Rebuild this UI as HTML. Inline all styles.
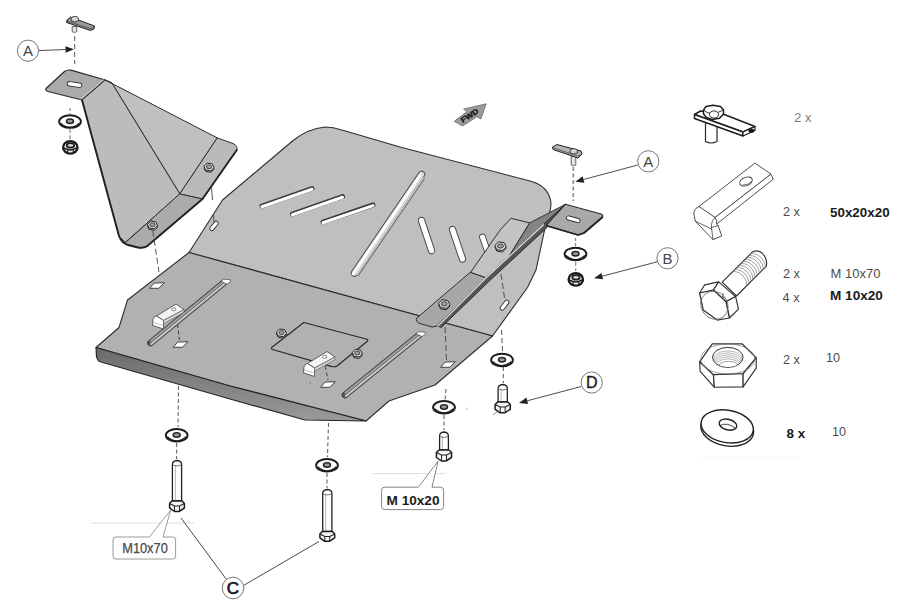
<!DOCTYPE html>
<html><head><meta charset="utf-8"><title>Skid plate mounting diagram</title>
<style>
html,body{margin:0;padding:0;background:#fff;}
body{width:900px;height:612px;overflow:hidden;font-family:"Liberation Sans",sans-serif;}
svg{display:block;font-family:"Liberation Sans",sans-serif;}
</style></head><body>
<svg width="900" height="612" viewBox="0 0 900 612">
<rect width="900" height="612" fill="#fff"/>
<defs>
<linearGradient id="gfront" x1="0" y1="0" x2="0.06" y2="1">
<stop offset="0" stop-color="#6a6a6c"/><stop offset="1" stop-color="#98989a"/></linearGradient>
<clipPath id="nutclip"><ellipse cx="727.8" cy="357.4" rx="15" ry="9.7"/></clipPath>
</defs>
<path d="M189,252.5 L222.5,200 L292.5,141 Q308,128.5 325,127 Q333,127 342,130 L400,147 L530,181 Q549,186 551,203 Q551,212 545,228 L536,270 L527.5,287.5 L492.5,336 Z" fill="#bfbec1" stroke="#2e2e2e" stroke-width="1.1" stroke-linejoin="round" stroke-linecap="round" />
<path d="M189,252.5 L127.5,300 L119,327.5 L96,347.5 L230,386 L366,421 L389,401 L435,385 L492.5,336 Z" fill="#b1b0b3" stroke="#2e2e2e" stroke-width="1.1" stroke-linejoin="round" stroke-linecap="round" />
<path d="M96,347.5 L230,386 L366,421 L305,420 L230,399 L101,362 Q97,361 96.5,356 Z" fill="url(#gfront)" stroke="#262626" stroke-width="1.2" stroke-linejoin="round" stroke-linecap="round" />
<line x1="262" y1="206.0" x2="312" y2="188.5" stroke="#3a3a3a" stroke-width="5" stroke-linecap="round"/>
<line x1="262" y1="206.8" x2="312" y2="189.3" stroke="#fff" stroke-width="3.1" stroke-linecap="round"/>
<line x1="292.5" y1="214.0" x2="342.5" y2="196.5" stroke="#3a3a3a" stroke-width="5" stroke-linecap="round"/>
<line x1="292.5" y1="214.8" x2="342.5" y2="197.3" stroke="#fff" stroke-width="3.1" stroke-linecap="round"/>
<line x1="323" y1="222.0" x2="373" y2="204.8" stroke="#3a3a3a" stroke-width="5" stroke-linecap="round"/>
<line x1="323" y1="222.8" x2="373" y2="205.60000000000002" stroke="#fff" stroke-width="3.1" stroke-linecap="round"/>
<line x1="421.5" y1="220.5" x2="431.5" y2="250.5" stroke="#444" stroke-width="7.2" stroke-linecap="round"/>
<line x1="421.5" y1="220.5" x2="431.5" y2="250.5" stroke="#fff" stroke-width="5.4" stroke-linecap="round"/>
<line x1="452.5" y1="229.5" x2="462.5" y2="259" stroke="#444" stroke-width="7.2" stroke-linecap="round"/>
<line x1="452.5" y1="229.5" x2="462.5" y2="259" stroke="#fff" stroke-width="5.4" stroke-linecap="round"/>
<line x1="482.5" y1="237" x2="487" y2="250" stroke="#444" stroke-width="6.8" stroke-linecap="round"/>
<line x1="482.5" y1="237" x2="487" y2="250" stroke="#fff" stroke-width="5.0" stroke-linecap="round"/>
<line x1="421.5" y1="174.5" x2="354.5" y2="273" stroke="#444" stroke-width="7.3999999999999995" stroke-linecap="round"/>
<line x1="421.5" y1="174.5" x2="354.5" y2="273" stroke="#dcdcdc" stroke-width="5.6" stroke-linecap="round"/>
<line x1="419.8" y1="176.0" x2="353.0" y2="274.0" stroke="#fff" stroke-width="2.4" stroke-linecap="round"/>
<line x1="423.6" y1="177.5" x2="357.0" y2="275.0" stroke="#fff" stroke-width="0.8" />
<line x1="424.6" y1="178.5" x2="358.0" y2="276.0" stroke="#555" stroke-width="0.9" />
<line x1="211.8" y1="228.6" x2="216.2" y2="223.2" stroke="#333" stroke-width="5.0" stroke-linecap="round"/>
<line x1="211.8" y1="228.6" x2="216.2" y2="223.2" stroke="#fff" stroke-width="3.2" stroke-linecap="round"/>
<line x1="223.5" y1="283" x2="150.5" y2="343" stroke="#333" stroke-width="6.6" stroke-linecap="round"/>
<line x1="223.5" y1="283" x2="150.5" y2="343" stroke="#5a5a5a" stroke-width="5" stroke-linecap="round"/>
<line x1="224.36" y1="284.04" x2="151.36" y2="344.04" stroke="#c9c9cb" stroke-width="2.1" stroke-linecap="round"/>
<line x1="222.64" y1="281.96" x2="150.42" y2="341.32" stroke="#a1a1a3" stroke-width="2.0" stroke-linecap="butt"/>
<polygon points="220.8,281.3 223.7,279.2 230.1,279.6 230.3,282.2 226.7,284.0" fill="#fff" stroke="#444" stroke-width="0.7" stroke-linejoin="round" />
<line x1="418.5" y1="335.5" x2="345" y2="395" stroke="#333" stroke-width="6.6" stroke-linecap="round"/>
<line x1="418.5" y1="335.5" x2="345" y2="395" stroke="#5a5a5a" stroke-width="5" stroke-linecap="round"/>
<line x1="419.35" y1="336.55" x2="345.85" y2="396.05" stroke="#c9c9cb" stroke-width="2.1" stroke-linecap="round"/>
<line x1="417.65" y1="334.45" x2="344.93" y2="393.32" stroke="#a1a1a3" stroke-width="2.0" stroke-linecap="butt"/>
<polygon points="415.8,333.8 418.7,331.7 425.1,332.1 425.3,334.7 421.7,336.5" fill="#fff" stroke="#444" stroke-width="0.7" stroke-linejoin="round" />
<polygon points="149.7,288.3 154.1,283.1 164.3,282.7 158.9,288.3" fill="#fff" stroke="#333" stroke-width="0.9" stroke-linejoin="round" />
<polygon points="173.2,347.3 177.6,342.1 187.8,341.7 182.4,347.3" fill="#fff" stroke="#333" stroke-width="0.9" stroke-linejoin="round" />
<polygon points="320.7,387.3 325.1,382.1 335.3,381.7 329.9,387.3" fill="#fff" stroke="#333" stroke-width="0.9" stroke-linejoin="round" />
<polygon points="440.7,367.3 445.1,362.1 455.3,361.7 449.9,367.3" fill="#fff" stroke="#333" stroke-width="0.9" stroke-linejoin="round" />
<line x1="502.3" y1="308" x2="506.8" y2="302.3" stroke="#333" stroke-width="5.2" stroke-linecap="round"/>
<line x1="502.3" y1="308" x2="506.8" y2="302.3" stroke="#fff" stroke-width="3.4" stroke-linecap="round"/>
<path d="M303.8,322.5 L367,339.2 Q368.5,340 367.3,341.2 L337,366 Q335,367.2 332,366.6 L272.5,349.5 Q270.5,348.6 272,347.2 Z" fill="#b1b0b3" stroke="#262626" stroke-width="1.1" stroke-linejoin="round" stroke-linecap="round" />
<polygon points="286.6,334.9 283.3,338.0 278.2,337.3 276.4,333.5 279.7,330.4 284.8,331.1" fill="#bdbdbd" stroke="#2a2a2a" stroke-width="1" stroke-linejoin="round" />
<polygon points="286.6,333.5 283.3,336.6 278.2,335.9 276.4,332.1 279.7,329.0 284.8,329.7" fill="#d6d6d8" stroke="#2a2a2a" stroke-width="1" stroke-linejoin="round" />
<ellipse cx="281.5" cy="332.6" rx="2.60" ry="1.87" fill="#a3a3a5" stroke="#333" stroke-width="0.9"/>
<polygon points="362.4,355.3 359.1,358.4 354.0,357.7 352.2,353.9 355.5,350.8 360.6,351.5" fill="#bdbdbd" stroke="#2a2a2a" stroke-width="1" stroke-linejoin="round" />
<polygon points="362.4,353.9 359.1,357.0 354.0,356.3 352.2,352.5 355.5,349.4 360.6,350.1" fill="#d6d6d8" stroke="#2a2a2a" stroke-width="1" stroke-linejoin="round" />
<ellipse cx="357.3" cy="353.0" rx="2.60" ry="1.87" fill="#a3a3a5" stroke="#333" stroke-width="0.9"/>
<polygon points="156.5,316.0 176.0,304.0 184.0,309.5 163.5,320.5" fill="#f4f4f4" stroke="#444" stroke-width="0.8" stroke-linejoin="round" />
<path d="M153.0,319.5 Q153.5,316.5 156.5,316 L163.5,320.5 L163.5,329 L153.0,325.5 Z" fill="#fff" stroke="#444" stroke-width="0.8" stroke-linejoin="round" stroke-linecap="round" />
<line x1="153.3" y1="322.5" x2="163.5" y2="325.5" stroke="#aaa" stroke-width="0.7" />
<polygon points="163.5,320.5 184.0,309.5 184.0,312.2 163.5,323.8" fill="#d6d6d6" stroke="#555" stroke-width="0.6" stroke-linejoin="round" />
<ellipse cx="173.7" cy="309.4" rx="2.1" ry="1.5" fill="#fff" stroke="#555" stroke-width="0.7"/>
<polygon points="307.5,363.5 327.0,351.5 335.0,357.0 314.5,368.0" fill="#f4f4f4" stroke="#444" stroke-width="0.8" stroke-linejoin="round" />
<path d="M304.0,367.0 Q304.5,364.0 307.5,363.5 L314.5,368.0 L314.5,376.5 L304.0,373.0 Z" fill="#fff" stroke="#444" stroke-width="0.8" stroke-linejoin="round" stroke-linecap="round" />
<line x1="304.3" y1="370.0" x2="314.5" y2="373.0" stroke="#aaa" stroke-width="0.7" />
<polygon points="314.5,368.0 335.0,357.0 335.0,359.7 314.5,371.3" fill="#d6d6d6" stroke="#555" stroke-width="0.6" stroke-linejoin="round" />
<ellipse cx="324.7" cy="356.9" rx="2.1" ry="1.5" fill="#fff" stroke="#555" stroke-width="0.7"/>
<line x1="177.5" y1="324.0" x2="179.5" y2="340.0" stroke="#444" stroke-width="1" stroke-dasharray="4 2.5"/>
<line x1="325.2" y1="366.0" x2="328.0" y2="380.0" stroke="#444" stroke-width="1" stroke-dasharray="4 2.5"/>
<line x1="309.8" y1="382.3" x2="311.0" y2="383.3" stroke="#333" stroke-width="0.8" />
<path d="M46,88.5 L64.5,71.5 Q67,69.5 71,70.2 L105.3,80 L82,100 L48,91.5 Q45,90.5 46,88.5 Z" fill="#aaa9ac" stroke="#2a2a2a" stroke-width="1.2" stroke-linejoin="round" stroke-linecap="round" />
<line x1="103.8" y1="79.4" x2="80.6" y2="99.3" stroke="#e0e0e0" stroke-width="0.8" />
<polygon points="82.0,100.0 105.3,80.0 112.0,83.0 180.0,194.0 125.0,242.5 119.0,236.0" fill="#bcbbbe" stroke="#2e2e2e" stroke-width="1" stroke-linejoin="round" />
<polygon points="105.3,80.0 217.5,138.0 180.0,194.0 112.0,83.0" fill="#c0bfc2" stroke="#2e2e2e" stroke-width="1" stroke-linejoin="round" />
<path d="M217.5,138 L233,143.5 Q238.5,146 236.5,150.5 L202.5,199 L180,194 Z" fill="#bab9bc" stroke="#2e2e2e" stroke-width="1" stroke-linejoin="round" stroke-linecap="round" />
<path d="M180,194 L202.5,199 L147,246.2 Q143,248.5 138,247.5 L127,244.5 Q122,243 119,236 L125,242.5 Z" fill="#abaaad" stroke="#2e2e2e" stroke-width="1" stroke-linejoin="round" stroke-linecap="round" />
<path d="M82,100 L119,236 Q122,243.5 128,245 L138,247.5 Q143.5,248.5 147,246.2 L202.5,199 L236.8,150" fill="none" stroke="#222" stroke-width="1.9" stroke-linejoin="round" stroke-linecap="round" />
<line x1="69.5" y1="83.8" x2="79.5" y2="85.2" stroke="#333" stroke-width="5.4" stroke-linecap="round"/>
<line x1="69.5" y1="83.8" x2="79.5" y2="85.2" stroke="#fff" stroke-width="3.6" stroke-linecap="round"/>
<polygon points="214.1,169.1 210.8,172.2 205.7,171.5 203.9,167.7 207.2,164.6 212.3,165.3" fill="#bdbdbd" stroke="#2a2a2a" stroke-width="1" stroke-linejoin="round" />
<polygon points="214.1,167.7 210.8,170.8 205.7,170.1 203.9,166.3 207.2,163.2 212.3,163.9" fill="#d6d6d8" stroke="#2a2a2a" stroke-width="1" stroke-linejoin="round" />
<ellipse cx="209" cy="166.8" rx="2.60" ry="1.87" fill="#a3a3a5" stroke="#333" stroke-width="0.9"/>
<polygon points="157.6,227.1 154.3,230.2 149.2,229.5 147.4,225.7 150.7,222.6 155.8,223.3" fill="#bdbdbd" stroke="#2a2a2a" stroke-width="1" stroke-linejoin="round" />
<polygon points="157.6,225.7 154.3,228.8 149.2,228.1 147.4,224.3 150.7,221.2 155.8,221.9" fill="#d6d6d8" stroke="#2a2a2a" stroke-width="1" stroke-linejoin="round" />
<ellipse cx="152.5" cy="224.8" rx="2.60" ry="1.87" fill="#a3a3a5" stroke="#333" stroke-width="0.9"/>
<line x1="152.8" y1="231.0" x2="159.0" y2="272.0" stroke="#444" stroke-width="0.9" stroke-dasharray="6 3"/>
<line x1="211.5" y1="188.0" x2="212.5" y2="200.0" stroke="#444" stroke-width="0.9" />
<line x1="213.5" y1="214.0" x2="214.0" y2="222.0" stroke="#444" stroke-width="0.9" />
<polygon points="470.5,272.5 500.5,229.5 511.0,218.3 529.7,222.9 509.8,255.3 485.8,277.7" fill="#c3c2c5" stroke="#2e2e2e" stroke-width="1" stroke-linejoin="round" />
<path d="M470.5,272.5 L485.8,277.7 L436.8,326 L432,327 L420,323.5 Q415,321.5 416.5,318.5 Z" fill="#a7a6a9" stroke="#2e2e2e" stroke-width="1" stroke-linejoin="round" stroke-linecap="round" />
<path d="M565.4,204.2 L601,214 Q603.5,215 602.4,217.3 L584,233 L578,235 L545.8,225.5 Z" fill="#a9a8ab" stroke="#2a2a2a" stroke-width="1.1" stroke-linejoin="round" stroke-linecap="round" />
<path d="M545.8,225.5 L578,235 L584,233 L602.4,217.3" fill="none" stroke="#222" stroke-width="1.8" stroke-linejoin="round" stroke-linecap="round" />
<line x1="568.5" y1="218" x2="578" y2="220.5" stroke="#333" stroke-width="5.0" stroke-linecap="round"/>
<line x1="568.5" y1="218" x2="578" y2="220.5" stroke="#fff" stroke-width="3.2" stroke-linecap="round"/>
<polygon points="565.4,204.3 529.7,222.9 509.8,255.3 543.5,224.5" fill="#838385" stroke="#2a2a2a" stroke-width="0.9" stroke-linejoin="round" />
<polygon points="543.5,224.5 485.8,277.7 437.3,326.0 441.2,327.4 489.5,280.8 547.0,227.6 546.0,225.8 565.4,204.3" fill="#555557" stroke="#262626" stroke-width="0.9" stroke-linejoin="round" />
<path d="M543.5,224.8 L485.8,278 L438,326" fill="none" stroke="#e4e4e4" stroke-width="1.2" stroke-linejoin="round" stroke-linecap="round" />
<polygon points="506.2,248.4 502.5,251.9 496.8,251.1 494.8,246.8 498.5,243.3 504.2,244.1" fill="#bdbdbd" stroke="#2a2a2a" stroke-width="1" stroke-linejoin="round" />
<polygon points="506.2,247.0 502.5,250.5 496.8,249.7 494.8,245.4 498.5,241.9 504.2,242.7" fill="#d6d6d8" stroke="#2a2a2a" stroke-width="1" stroke-linejoin="round" />
<ellipse cx="500.5" cy="246.0" rx="2.90" ry="2.09" fill="#a3a3a5" stroke="#333" stroke-width="0.9"/>
<polygon points="449.9,306.2 446.2,309.7 440.5,308.9 438.5,304.6 442.2,301.1 447.9,301.9" fill="#bdbdbd" stroke="#2a2a2a" stroke-width="1" stroke-linejoin="round" />
<polygon points="449.9,304.8 446.2,308.3 440.5,307.5 438.5,303.2 442.2,299.7 447.9,300.5" fill="#d6d6d8" stroke="#2a2a2a" stroke-width="1" stroke-linejoin="round" />
<ellipse cx="444.2" cy="303.8" rx="2.90" ry="2.09" fill="#a3a3a5" stroke="#333" stroke-width="0.9"/>
<line x1="501.0" y1="274.0" x2="505.0" y2="301.0" stroke="#444" stroke-width="0.9" stroke-dasharray="6 3"/>
<line x1="445.0" y1="327.0" x2="446.5" y2="360.0" stroke="#444" stroke-width="0.9" stroke-dasharray="6 3"/>
<line x1="501.5" y1="330.0" x2="502.5" y2="351.0" stroke="#444" stroke-width="0.9" stroke-dasharray="5 3"/>
<line x1="503.3" y1="367.0" x2="503.3" y2="383.0" stroke="#444" stroke-width="0.9" stroke-dasharray="4 3"/>
<g transform="translate(67,19.5) scale(1.0)">
<path d="M5.2,7 L5.2,12.2 Q7.5,13.8 9.8,12.2 L9.8,7 Z" fill="#e2e2e2" stroke="#444" stroke-width="0.8"/>
<path d="M0,0.5 L3.5,-2.5 L27.5,6.5 L27,9.5 L23.5,11 L-0.5,3 Z" fill="#9b9b9b" stroke="#222" stroke-width="1"/>
<path d="M-0.3,1.5 L23.8,9.3 L27.3,7" fill="none" stroke="#333" stroke-width="0.7"/>
<ellipse cx="7.8" cy="-0.6" rx="3.7" ry="2.4" fill="#dedede" stroke="#222" stroke-width="0.9"/>
<path d="M4.1,-0.6 L4.1,1.2 Q7.8,3.8 11.5,1.2 L11.5,-0.6" fill="#cfcfcf" stroke="#222" stroke-width="0.8"/>
</g>
<line x1="74.7" y1="36.0" x2="74.7" y2="64.0" stroke="#444" stroke-width="0.9" stroke-dasharray="5 3"/>
<circle cx="28" cy="50.7" r="10.6" fill="#fff" stroke="#666" stroke-width="0.9"/>
<text x="28" y="56.1" font-size="15" font-weight="normal" text-anchor="middle" fill="#444" stroke="#444" stroke-width="0">A</text>
<line x1="38.7" y1="50.6" x2="65.5" y2="49.5" stroke="#3a3a3a" stroke-width="0.9" />
<polygon points="74.0,49.2 65.6,52.8 65.4,46.2" fill="#222" stroke="none" stroke-width="0" stroke-linejoin="round" />
<line x1="70.0" y1="108.0" x2="70.0" y2="114.0" stroke="#444" stroke-width="0.8" stroke-dasharray="3 2"/>
<ellipse cx="70" cy="121.6" rx="10.9" ry="6.3" fill="#fff" stroke="#1a1a1a" stroke-width="1.9"/>
<path d="M60.6,123.1 Q70,131.2 79.4,123.1" fill="none" stroke="#1a1a1a" stroke-width="1.2"/>
<ellipse cx="70" cy="121.3" rx="3.5" ry="2.2" fill="#9a9a9a" stroke="#222" stroke-width="1.5"/>
<line x1="70.0" y1="129.0" x2="70.0" y2="139.0" stroke="#444" stroke-width="0.8" stroke-dasharray="4 2.5"/>
<ellipse cx="70.3" cy="147.4" rx="7.2" ry="6.3" fill="#f2f2f2" stroke="#1a1a1a" stroke-width="2.3"/>
<path d="M63.89999999999999,147.8 Q70.3,152.2 76.7,147.8" fill="none" stroke="#1a1a1a" stroke-width="1.4"/>
<ellipse cx="70.5" cy="145.4" rx="3.7" ry="2.3" fill="#d5d5d5" stroke="#1a1a1a" stroke-width="1.7"/>
<line x1="67.7" y1="150.2" x2="67.7" y2="153" stroke="#1a1a1a" stroke-width="1.2"/>
<line x1="73.3" y1="150.2" x2="73.3" y2="153" stroke="#1a1a1a" stroke-width="1.2"/>
<g transform="translate(582,149.5) scale(-1,1)">
<path d="M6.2,7 L6.2,15.5 Q8.5,17 10.8,15.5 L10.8,7 Z" fill="#e2e2e2" stroke="#444" stroke-width="0.8"/>
<path d="M0,4.5 L1,1.5 L25,-5 L29.5,-2.5 L29,0 L4,8.5 Z" fill="#b4b4b4" stroke="#222" stroke-width="1"/>
<path d="M0.3,5 L4,6.6 L29,-1.6" fill="none" stroke="#333" stroke-width="0.7"/>
<ellipse cx="8.3" cy="1.6" rx="3.7" ry="2.4" fill="#dedede" stroke="#222" stroke-width="0.9"/>
<path d="M4.6,1.6 L4.6,3.4 Q8.3,6 12,3.4 L12,1.6" fill="#cfcfcf" stroke="#222" stroke-width="0.8"/>
</g>
<line x1="573.3" y1="167.0" x2="573.3" y2="201.0" stroke="#8a8a8a" stroke-width="1.6" stroke-dasharray="4 2.5"/>
<circle cx="648.3" cy="161.3" r="10.6" fill="#fff" stroke="#666" stroke-width="0.9"/>
<text x="648.3" y="166.7" font-size="15" font-weight="normal" text-anchor="middle" fill="#444" stroke="#444" stroke-width="0">A</text>
<line x1="637.8" y1="165.0" x2="583.5" y2="179.5" stroke="#3a3a3a" stroke-width="0.9" />
<polygon points="575.3,181.7 582.7,176.3 584.4,182.7" fill="#222" stroke="none" stroke-width="0" stroke-linejoin="round" />
<line x1="575.5" y1="238.0" x2="575.5" y2="246.0" stroke="#888" stroke-width="1.2" stroke-dasharray="3 2"/>
<ellipse cx="575.5" cy="254.0" rx="10.9" ry="6.3" fill="#fff" stroke="#1a1a1a" stroke-width="1.9"/>
<path d="M566.1,255.5 Q575.5,263.6 584.9,255.5" fill="none" stroke="#1a1a1a" stroke-width="1.2"/>
<ellipse cx="575.5" cy="253.7" rx="3.5" ry="2.2" fill="#9a9a9a" stroke="#222" stroke-width="1.5"/>
<line x1="575.7" y1="262.0" x2="575.7" y2="271.0" stroke="#888" stroke-width="1.2" stroke-dasharray="4 2.5"/>
<ellipse cx="575.8" cy="279.4" rx="7.2" ry="6.3" fill="#f2f2f2" stroke="#1a1a1a" stroke-width="2.3"/>
<path d="M569.3999999999999,279.8 Q575.8,284.2 582.2,279.8" fill="none" stroke="#1a1a1a" stroke-width="1.4"/>
<ellipse cx="576.0" cy="277.4" rx="3.7" ry="2.3" fill="#d5d5d5" stroke="#1a1a1a" stroke-width="1.7"/>
<line x1="573.1999999999999" y1="282.2" x2="573.1999999999999" y2="285" stroke="#1a1a1a" stroke-width="1.2"/>
<line x1="578.8" y1="282.2" x2="578.8" y2="285" stroke="#1a1a1a" stroke-width="1.2"/>
<circle cx="667.5" cy="258.3" r="10.6" fill="#fff" stroke="#666" stroke-width="0.9"/>
<text x="667.5" y="263.7" font-size="15" font-weight="normal" text-anchor="middle" fill="#444" stroke="#444" stroke-width="0">B</text>
<line x1="657.3" y1="261.8" x2="602.2" y2="276.2" stroke="#3a3a3a" stroke-width="0.9" />
<polygon points="594.0,278.3 601.4,273.0 603.1,279.3" fill="#222" stroke="none" stroke-width="0" stroke-linejoin="round" />
<line x1="178.5" y1="386.0" x2="178.0" y2="427.0" stroke="#444" stroke-width="0.9" stroke-dasharray="4 2.5"/>
<ellipse cx="176.7" cy="435.3" rx="10.9" ry="6.3" fill="#fff" stroke="#1a1a1a" stroke-width="1.9"/>
<path d="M167.29999999999998,436.8 Q176.7,444.90000000000003 186.1,436.8" fill="none" stroke="#1a1a1a" stroke-width="1.2"/>
<ellipse cx="176.7" cy="435" rx="3.5" ry="2.2" fill="#9a9a9a" stroke="#222" stroke-width="1.5"/>
<line x1="176.7" y1="443.0" x2="176.7" y2="459.0" stroke="#444" stroke-width="0.9" stroke-dasharray="4 2.5"/>
<path d="M172.4,501 L172.4,464.5 Q172.4,461 177,460.5 Q181.6,461 181.6,464.5 L181.6,501 Z" fill="#fff" stroke="#222" stroke-width="1.3" stroke-linejoin="round" stroke-linecap="round" />
<line x1="175.4" y1="465.0" x2="175.4" y2="501.0" stroke="#999" stroke-width="0.7" />
<path d="M172.4,465 Q177,467 181.6,465" fill="none" stroke="#555" stroke-width="0.8"/>
<path d="M169.6,503.5 L171.9,501 L182.1,501 L184.4,503.5 L184.4,508.0 L179,511.5 L174.5,511.5 L169.6,508.0 Z" fill="#f4f4f4" stroke="#1c1c1c" stroke-width="1.5" stroke-linejoin="round" stroke-linecap="round" />
<path d="M169.6,503.5 L174.5,506 L179.5,506 L184.4,503.5" fill="none" stroke="#222" stroke-width="1.1"/>
<line x1="174.5" y1="506.0" x2="174.5" y2="511.5" stroke="#222" stroke-width="1" />
<line x1="179.5" y1="506.0" x2="179.5" y2="511.5" stroke="#222" stroke-width="1" />
<line x1="328.5" y1="423.0" x2="327.5" y2="457.0" stroke="#444" stroke-width="0.9" stroke-dasharray="4 2.5"/>
<ellipse cx="327" cy="465.3" rx="10.9" ry="6.3" fill="#fff" stroke="#1a1a1a" stroke-width="1.9"/>
<path d="M317.6,466.8 Q327,474.90000000000003 336.4,466.8" fill="none" stroke="#1a1a1a" stroke-width="1.2"/>
<ellipse cx="327" cy="465" rx="3.5" ry="2.2" fill="#9a9a9a" stroke="#222" stroke-width="1.5"/>
<line x1="327.0" y1="473.0" x2="327.0" y2="488.0" stroke="#444" stroke-width="0.9" stroke-dasharray="4 2.5"/>
<path d="M322.7,531.5 L322.7,493.5 Q322.7,490 327.3,489.5 Q331.90000000000003,490 331.90000000000003,493.5 L331.90000000000003,531.5 Z" fill="#fff" stroke="#222" stroke-width="1.3" stroke-linejoin="round" stroke-linecap="round" />
<line x1="325.7" y1="494.0" x2="325.7" y2="531.5" stroke="#999" stroke-width="0.7" />
<path d="M322.7,494 Q327.3,496 331.90000000000003,494" fill="none" stroke="#555" stroke-width="0.8"/>
<path d="M319.90000000000003,534.0 L322.2,531.5 L332.40000000000003,531.5 L334.7,534.0 L334.7,537.8 L329.3,541.3 L324.8,541.3 L319.90000000000003,537.8 Z" fill="#f4f4f4" stroke="#1c1c1c" stroke-width="1.5" stroke-linejoin="round" stroke-linecap="round" />
<path d="M319.90000000000003,534.0 L324.8,536.5 L329.8,536.5 L334.7,534.0" fill="none" stroke="#222" stroke-width="1.1"/>
<line x1="324.8" y1="536.5" x2="324.8" y2="541.3" stroke="#222" stroke-width="1" />
<line x1="329.8" y1="536.5" x2="329.8" y2="541.3" stroke="#222" stroke-width="1" />
<line x1="446.0" y1="389.0" x2="445.0" y2="400.0" stroke="#444" stroke-width="0.9" stroke-dasharray="4 2.5"/>
<ellipse cx="444" cy="407.3" rx="10.9" ry="6.3" fill="#fff" stroke="#1a1a1a" stroke-width="1.9"/>
<path d="M434.6,408.8 Q444,416.90000000000003 453.4,408.8" fill="none" stroke="#1a1a1a" stroke-width="1.2"/>
<ellipse cx="444" cy="407" rx="3.5" ry="2.2" fill="#9a9a9a" stroke="#222" stroke-width="1.5"/>
<line x1="444.0" y1="415.0" x2="444.0" y2="430.0" stroke="#444" stroke-width="0.9" stroke-dasharray="4 2.5"/>
<path d="M439.6,450 L439.6,436.0 Q439.6,432.5 444,432.0 Q448.4,432.5 448.4,436.0 L448.4,450 Z" fill="#fff" stroke="#222" stroke-width="1.3" stroke-linejoin="round" stroke-linecap="round" />
<line x1="442.4" y1="436.5" x2="442.4" y2="450.0" stroke="#999" stroke-width="0.7" />
<path d="M439.6,436.5 Q444,438.5 448.4,436.5" fill="none" stroke="#555" stroke-width="0.8"/>
<path d="M436.4,452.5 L439.1,450 L448.9,450 L451.6,452.5 L451.6,457.5 L446,461 L441.5,461 L436.4,457.5 Z" fill="#f4f4f4" stroke="#1c1c1c" stroke-width="1.5" stroke-linejoin="round" stroke-linecap="round" />
<path d="M436.4,452.5 L441.5,455 L446.5,455 L451.6,452.5" fill="none" stroke="#222" stroke-width="1.1"/>
<line x1="441.5" y1="455.0" x2="441.5" y2="461.0" stroke="#222" stroke-width="1" />
<line x1="446.5" y1="455.0" x2="446.5" y2="461.0" stroke="#222" stroke-width="1" />
<ellipse cx="502" cy="360.0" rx="10.9" ry="6.3" fill="#fff" stroke="#1a1a1a" stroke-width="1.9"/>
<path d="M492.6,361.5 Q502,369.6 511.4,361.5" fill="none" stroke="#1a1a1a" stroke-width="1.2"/>
<ellipse cx="502" cy="359.7" rx="3.5" ry="2.2" fill="#9a9a9a" stroke="#222" stroke-width="1.5"/>
<path d="M498.09999999999997,402 L498.09999999999997,388.5 Q498.09999999999997,385 502.7,384.5 Q507.3,385 507.3,388.5 L507.3,402 Z" fill="#fff" stroke="#222" stroke-width="1.3" stroke-linejoin="round" stroke-linecap="round" />
<line x1="501.1" y1="389.0" x2="501.1" y2="402.0" stroke="#999" stroke-width="0.7" />
<path d="M498.09999999999997,389 Q502.7,391 507.3,389" fill="none" stroke="#555" stroke-width="0.8"/>
<path d="M495.09999999999997,404.5 L497.59999999999997,402 L507.8,402 L510.3,404.5 L510.3,409.3 L504.7,412.8 L500.2,412.8 L495.09999999999997,409.3 Z" fill="#f4f4f4" stroke="#1c1c1c" stroke-width="1.5" stroke-linejoin="round" stroke-linecap="round" />
<path d="M495.09999999999997,404.5 L500.2,407 L505.2,407 L510.3,404.5" fill="none" stroke="#222" stroke-width="1.1"/>
<line x1="500.2" y1="407.0" x2="500.2" y2="412.8" stroke="#222" stroke-width="1" />
<line x1="505.2" y1="407.0" x2="505.2" y2="412.8" stroke="#222" stroke-width="1" />
<circle cx="591.7" cy="382.5" r="10.6" fill="#fff" stroke="#666" stroke-width="0.9"/>
<text x="591.7" y="388.3" font-size="16" font-weight="normal" text-anchor="middle" fill="#222" stroke="#222" stroke-width="0.4">D</text>
<line x1="581.3" y1="386.5" x2="527.2" y2="400.8" stroke="#3a3a3a" stroke-width="0.9" />
<polygon points="519.0,403.0 526.4,397.6 528.1,404.0" fill="#222" stroke="none" stroke-width="0" stroke-linejoin="round" />
<line x1="497.0" y1="412.0" x2="493.0" y2="415.0" stroke="#555" stroke-width="0.7" />
<line x1="466.7" y1="407.5" x2="466.7" y2="410.0" stroke="#999" stroke-width="0.7" />
<line x1="91.0" y1="523.0" x2="194.0" y2="523.0" stroke="#dedede" stroke-width="1" />
<path d="M149,537 L116,537 Q113,537 113,540 L113,556 Q113,559 116,559 L172.6,559 Q175.6,559 175.6,556 L175.6,540 Q175.6,537 172.6,537 L163,537 L170.6,510.5 Z" fill="#fff" stroke="#8e8e8e" stroke-width="0.9" stroke-linejoin="round" stroke-linecap="round" />
<text x="145" y="553" font-size="14.3" text-anchor="middle" fill="#484848" stroke="#484848" stroke-width="0.25" textLength="45.5" lengthAdjust="spacingAndGlyphs">M10x70</text>
<line x1="181.0" y1="518.0" x2="226.5" y2="579.5" stroke="#333" stroke-width="0.9" />
<line x1="243.5" y1="585.5" x2="319.0" y2="541.5" stroke="#333" stroke-width="0.9" />
<circle cx="233" cy="588" r="10.8" fill="#fff" stroke="#666" stroke-width="0.9"/>
<text x="233" y="594.1" font-size="17" font-weight="normal" text-anchor="middle" fill="#1a1a1a" stroke="#1a1a1a" stroke-width="0.7">C</text>
<line x1="372.0" y1="473.6" x2="445.0" y2="473.6" stroke="#dedede" stroke-width="1" />
<path d="M418,487.2 L384.6,487.2 Q381.6,487.2 381.6,490.2 L381.6,506.6 Q381.6,509.6 384.6,509.6 L440.6,509.6 Q443.6,509.6 443.6,506.6 L443.6,490.2 Q443.6,487.2 440.6,487.2 L432,487.2 L438,461.5 Z" fill="#fff" stroke="#777" stroke-width="0.9" stroke-linejoin="round" stroke-linecap="round" />
<text x="413" y="504.8" font-size="13.6" font-weight="bold" text-anchor="middle" fill="#1c1c1c">M 10x20</text>
<polygon points="454.2,121.3 462.7,126.0 476.9,116.7 480.9,118.9 486.2,103.8 463.6,109.1 466.7,111.8" fill="#9c9c9e" stroke="#6a6a6a" stroke-width="0.8" stroke-linejoin="round" />
<text x="0" y="0" transform="translate(469.6,115.6) rotate(-33)" font-size="7.4" font-weight="bold" text-anchor="middle" fill="#151515" stroke="#151515" stroke-width="0.3" dominant-baseline="central" textLength="19.5" lengthAdjust="spacingAndGlyphs">FWD</text>
<text x="794.3" y="121.7" font-size="12.7" fill="#7a7a7a">2 x</text>
<text x="783" y="215.5" font-size="12.7" fill="#4c4c4c">2 x</text>
<text x="830" y="216.7" font-size="13.4" font-weight="bold" fill="#1a1a1a">50x20x20</text>
<text x="783" y="277.7" font-size="12.7" fill="#4c4c4c">2 x</text>
<text x="830.6" y="277.7" font-size="13" fill="#4c4c4c">M 10x70</text>
<text x="782.6" y="302.4" font-size="12.7" fill="#4c4c4c">4 x</text>
<text x="830" y="300.2" font-size="13.6" font-weight="bold" fill="#1a1a1a">M 10x20</text>
<text x="783" y="364" font-size="12.7" fill="#4c4c4c">2 x</text>
<text x="826" y="362.4" font-size="12.6" fill="#4c4c4c">10</text>
<text x="786.5" y="437.9" font-size="13.4" font-weight="bold" fill="#1a1a1a">8 x</text>
<text x="832" y="436.4" font-size="12.6" fill="#4c4c4c">10</text>
<path d="M705.5,121 L705.5,141.5 Q711,144.5 717,141.5 L717,124" fill="#fff" stroke="#2a2a2a" stroke-width="1.2" stroke-linejoin="round" stroke-linecap="round" />
<polygon points="694.5,114.5 700.5,111.0 723.0,114.0 755.0,126.5 743.0,132.0" fill="#fff" stroke="#1e1e1e" stroke-width="1.5" stroke-linejoin="round" />
<polygon points="694.5,114.5 743.0,132.0 743.0,136.0 694.5,118.5" fill="#fff" stroke="#1e1e1e" stroke-width="1.5" stroke-linejoin="round" />
<polygon points="743.0,132.0 755.0,126.5 755.0,130.5 743.0,136.0" fill="#fff" stroke="#1e1e1e" stroke-width="1.2" stroke-linejoin="round" />
<ellipse cx="751.3" cy="130.8" rx="2.8" ry="2.2" fill="#1a1a1a"/>
<path d="M703.5,110 L706,106.5 L713,105.2 L720.5,106.5 L723.5,110 L723.5,114 L719.5,118.3 L712,119.5 L706.5,117.5 L703.5,114 Z" fill="#fff" stroke="#1e1e1e" stroke-width="1.5" stroke-linejoin="round" stroke-linecap="round" />
<path d="M703.5,110 L708,113 L716,113.2 L723.5,110" fill="none" stroke="#2a2a2a" stroke-width="0.9" stroke-linejoin="round" stroke-linecap="round" />
<ellipse cx="714" cy="114.5" rx="4.6" ry="3.6" fill="#fff" stroke="#2a2a2a" stroke-width="1"/>
<path d="M699,206.5 L754.9,163.1 L771,174.1 L715.1,217.5 Z" fill="#fff" stroke="#3c3c3c" stroke-width="0.9" stroke-linejoin="round" stroke-linecap="round" />
<path d="M715.1,217.5 L771,174.1 L773.2,179.3 L716.6,224.1" fill="#fff" stroke="#3c3c3c" stroke-width="0.9" stroke-linejoin="round" stroke-linecap="round" />
<path d="M699,206.5 Q694,208.5 693.8,213.8 L695.3,221.2 L712.9,239.6 L721.8,235.9 L718.1,225.6 L716.6,224.1 Q717.5,220 715.1,217.5" fill="#fff" stroke="#3c3c3c" stroke-width="0.9" stroke-linejoin="round" stroke-linecap="round" />
<path d="M715.1,217.5 Q711,221 711.5,227.5 L712.9,239.6" fill="none" stroke="#3c3c3c" stroke-width="0.8" stroke-linejoin="round" stroke-linecap="round" />
<line x1="699.0" y1="206.5" x2="715.1" y2="217.5" stroke="#3c3c3c" stroke-width="0.9" />
<path d="M695.3,221.2 L711.5,229" fill="none" stroke="#3c3c3c" stroke-width="0.8" stroke-linejoin="round" stroke-linecap="round" />
<path d="M711.5,227.5 L718.1,225.6" fill="none" stroke="#3c3c3c" stroke-width="0.8" stroke-linejoin="round" stroke-linecap="round" />
<ellipse cx="746" cy="181.5" rx="6.6" ry="4.2" transform="rotate(-22 746 181.5)" fill="#fff" stroke="#3c3c3c" stroke-width="0.9"/>
<path d="M743,185 Q748,185.5 751.5,181.5" fill="none" stroke="#3c3c3c" stroke-width="0.7" stroke-linejoin="round" stroke-linecap="round" />
<path d="M722.2,282.2 L752.5,251.9 Q757,249.3 761.8,252.8 Q767.8,258.5 766.3,266.2 L736.5,296 Z" fill="#fff" stroke="#333333" stroke-width="1.15" stroke-linejoin="round" stroke-linecap="round" />
<path d="M733.9,271.0 Q745.5,273.1 747.2,285.3" fill="none" stroke="#777" stroke-width="0.7" stroke-linejoin="round" stroke-linecap="round" />
<path d="M735.9,269.0 Q747.6,271.1 749.2,283.3" fill="none" stroke="#777" stroke-width="0.7" stroke-linejoin="round" stroke-linecap="round" />
<path d="M737.9,267.0 Q749.6,269.1 751.3,281.2" fill="none" stroke="#777" stroke-width="0.7" stroke-linejoin="round" stroke-linecap="round" />
<path d="M739.9,265.0 Q751.6,267.1 753.3,279.2" fill="none" stroke="#777" stroke-width="0.7" stroke-linejoin="round" stroke-linecap="round" />
<path d="M741.9,263.0 Q753.6,265.1 755.4,277.1" fill="none" stroke="#777" stroke-width="0.7" stroke-linejoin="round" stroke-linecap="round" />
<path d="M743.9,261.0 Q755.7,263.0 757.4,275.1" fill="none" stroke="#777" stroke-width="0.7" stroke-linejoin="round" stroke-linecap="round" />
<path d="M745.9,259.0 Q757.7,261.0 759.5,273.0" fill="none" stroke="#777" stroke-width="0.7" stroke-linejoin="round" stroke-linecap="round" />
<path d="M747.9,257.0 Q759.7,259.0 761.5,271.0" fill="none" stroke="#777" stroke-width="0.7" stroke-linejoin="round" stroke-linecap="round" />
<path d="M749.9,255.0 Q761.7,257.0 763.6,268.9" fill="none" stroke="#777" stroke-width="0.7" stroke-linejoin="round" stroke-linecap="round" />
<path d="M751.9,253.0 Q763.8,255.0 765.6,266.9" fill="none" stroke="#777" stroke-width="0.7" stroke-linejoin="round" stroke-linecap="round" />
<polygon points="699.6,293.0 704.7,284.9 718.7,281.9 713.5,290.0" fill="#fff" stroke="#333333" stroke-width="1.15" stroke-linejoin="round" />
<polygon points="713.5,290.0 718.7,281.9 735.6,296.6 726.0,301.8" fill="#fff" stroke="#333333" stroke-width="1.15" stroke-linejoin="round" />
<polygon points="726.0,301.8 735.6,296.6 738.5,309.1 729.4,318.0" fill="#fff" stroke="#333333" stroke-width="1.15" stroke-linejoin="round" />
<polygon points="699.6,293.0 713.5,290.0 726.0,301.8 729.4,318.0 717.2,320.1 703.2,309.9" fill="#fff" stroke="#333333" stroke-width="1.25" stroke-linejoin="round" />
<ellipse cx="714.4" cy="305.3" rx="13.2" ry="14.6" transform="rotate(-38 714.4 305.3)" fill="none" stroke="#666" stroke-width="0.8"/>
<path d="M723.2,293.5 L722.6,297 L724,297.5" fill="none" stroke="#333" stroke-width="0.8" stroke-linejoin="round" stroke-linecap="round" />
<polygon points="699.6,361.8 713.4,374.6 714.4,387.3 700.2,371.4" fill="#fff" stroke="#333333" stroke-width="1.15" stroke-linejoin="round" />
<polygon points="713.4,374.6 743.1,373.5 743.1,386.9 714.4,387.3" fill="#fff" stroke="#333333" stroke-width="1.15" stroke-linejoin="round" />
<polygon points="743.1,373.5 756.2,357.6 756.2,368.2 743.1,386.9" fill="#fff" stroke="#333333" stroke-width="1.15" stroke-linejoin="round" />
<polygon points="699.6,361.8 712.3,343.8 742.0,343.8 756.2,357.6 743.1,373.5 713.4,374.6" fill="#fff" stroke="#333333" stroke-width="1.25" stroke-linejoin="round" />
<ellipse cx="727.8" cy="359" rx="27" ry="15" fill="none" stroke="#777" stroke-width="0.7"/>
<ellipse cx="727.8" cy="357.4" rx="15.3" ry="10" fill="#fff" stroke="#333333" stroke-width="1"/>
<ellipse cx="727.8" cy="359.5" rx="14.6" ry="8.6" fill="none" stroke="#8a8a8a" stroke-width="0.6" clip-path="url(#nutclip)"/>
<ellipse cx="727.8" cy="361.0" rx="13.9" ry="8.1" fill="none" stroke="#8a8a8a" stroke-width="0.6" clip-path="url(#nutclip)"/>
<ellipse cx="727.8" cy="362.5" rx="13.2" ry="7.6" fill="none" stroke="#8a8a8a" stroke-width="0.6" clip-path="url(#nutclip)"/>
<ellipse cx="727.8" cy="364.0" rx="12.5" ry="7.1" fill="none" stroke="#8a8a8a" stroke-width="0.6" clip-path="url(#nutclip)"/>
<ellipse cx="727.8" cy="365.5" rx="11.8" ry="6.6" fill="none" stroke="#8a8a8a" stroke-width="0.6" clip-path="url(#nutclip)"/>
<ellipse cx="728.5" cy="364.8" rx="9" ry="3.4" fill="#fff" stroke="#777" stroke-width="0.7" clip-path="url(#nutclip)"/>
<ellipse cx="727.2" cy="429.3" rx="26.6" ry="16.6" transform="rotate(10 727.2 429.3)" fill="#fff" stroke="#222" stroke-width="1.4"/>
<ellipse cx="727.2" cy="426.4" rx="26.4" ry="16.2" transform="rotate(10 727.2 426.4)" fill="#fff" stroke="#222" stroke-width="1.4"/>
<ellipse cx="728" cy="424.6" rx="9" ry="5.3" transform="rotate(14 728 424.6)" fill="#fff" stroke="#222" stroke-width="1.4"/>
<path d="M720.2,425.5 Q727,421.5 735.5,428.3" fill="none" stroke="#2a2a2a" stroke-width="0.9" stroke-linejoin="round" stroke-linecap="round" />
<line x1="700.0" y1="458.0" x2="800.0" y2="457.5" stroke="#f5f5f5" stroke-width="1" />
</svg>
</body></html>
